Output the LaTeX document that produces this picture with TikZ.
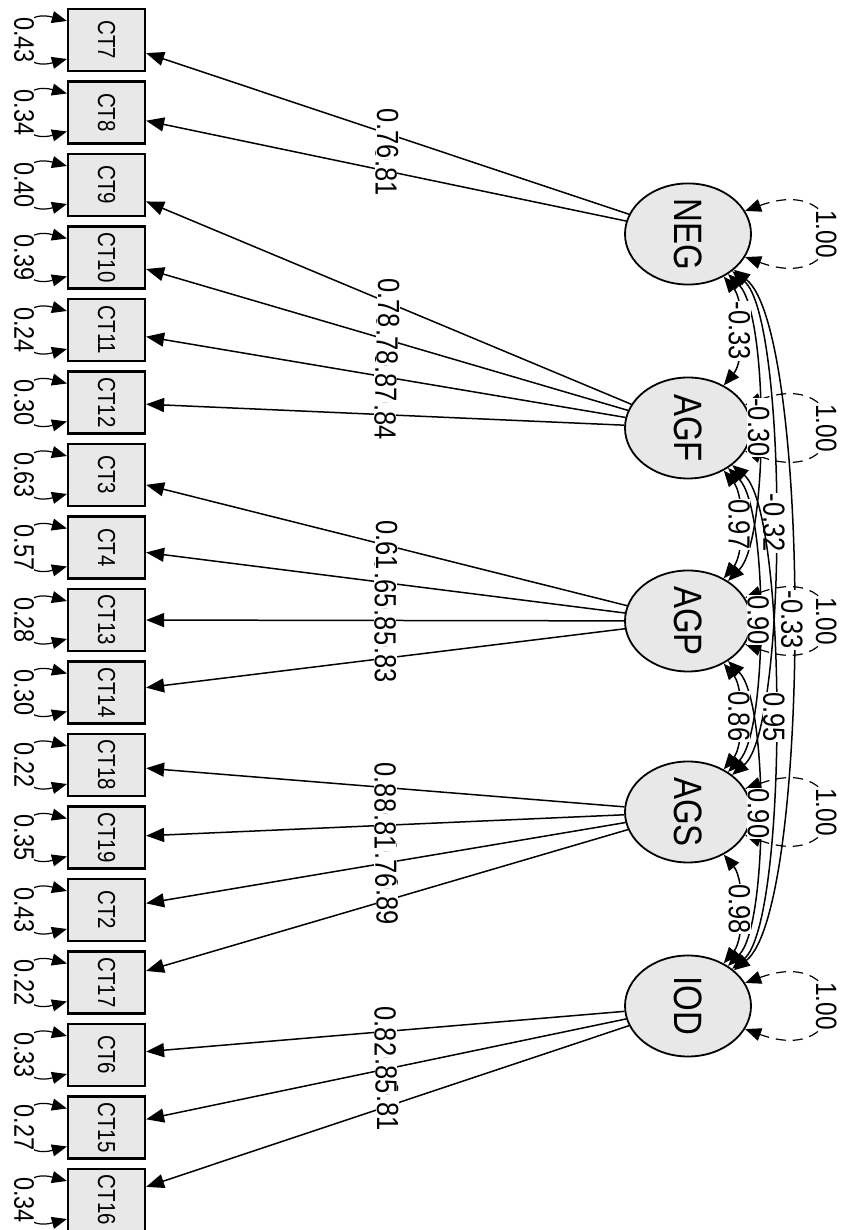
\documentclass[tikz,border=0pt]{standalone}
\usepackage{fontspec}
\setmainfont{Liberation Sans}
\usetikzlibrary{shapes.geometric,arrows.meta}
\definecolor{nodegray}{RGB}{232,232,232}
\newcommand{\rt}[1]{\rotatebox{-90}{\scalebox{1}[1.2]{#1}}}

\begin{document}
\begin{tikzpicture}[
    x=1pt, y=1pt,
    latent/.style={
        ellipse,
        draw,
        line width=1.8pt,
        fill=nodegray,
        minimum width=126pt,
        minimum height=101pt,
        inner sep=0pt,
        font=\fontsize{33}{33}\selectfont
    },
    manifest/.style={
        rectangle,
        draw,
        line width=2.2pt,
        fill=nodegray,
        minimum width=77pt,
        minimum height=62pt,
        inner sep=0pt,
        font=\fontsize{20.5}{20.5}\selectfont
    },
    loading/.style={-{Triangle[length=18pt,width=14pt]}, line width=1.5pt},
    resid/.style={{Triangle[length=15pt,width=12pt]}-{Triangle[length=15pt,width=12pt]}, line width=1.2pt},
    varloop/.style={{Triangle[length=16pt,width=13pt]}-{Triangle[length=16pt,width=13pt]}, line width=1.2pt, dash pattern=on 10pt off 7pt},
    covar/.style={{Triangle[length=16pt,width=13pt]}-{Triangle[length=16pt,width=13pt]}, line width=1.5pt},
    elab/.style={fill=white, inner sep=0.5pt, midway, font=\fontsize{25.5}{25.5}\selectfont},
    rlab/.style={fill=white, inner sep=0.5pt, midway, font=\fontsize{23.5}{23.5}\selectfont},
    vlab/.style={fill=white, inner sep=0.5pt, midway, font=\fontsize{24.5}{24.5}\selectfont}
]
\useasboundingbox (0,0) rectangle (841,1230);

% Latent factors
\node[latent] (neg) at (688,996) {\rt{NEG}};
\node[latent] (agf) at (688,802) {\rt{AGF}};
\node[latent] (agp) at (688,609) {\rt{AGP}};
\node[latent] (ags) at (688,418) {\rt{AGS}};
\node[latent] (iod) at (688,224) {\rt{IOD}};

% Items
\node[manifest] (ct7) at (106.5,1190) {\rt{CT7}};
\node[manifest] (ct8) at (106.5,1117.5) {\rt{CT8}};
\node[manifest] (ct9) at (106.5,1045) {\rt{CT9}};
\node[manifest] (ct10) at (106.5,972.5) {\rt{CT10}};
\node[manifest] (ct11) at (106.5,900) {\rt{CT11}};
\node[manifest] (ct12) at (106.5,827.5) {\rt{CT12}};
\node[manifest] (ct3) at (106.5,755) {\rt{CT3}};
\node[manifest] (ct4) at (106.5,682.5) {\rt{CT4}};
\node[manifest] (ct13) at (106.5,610) {\rt{CT13}};
\node[manifest] (ct14) at (106.5,537.5) {\rt{CT14}};
\node[manifest] (ct18) at (106.5,465) {\rt{CT18}};
\node[manifest] (ct19) at (106.5,392.5) {\rt{CT19}};
\node[manifest] (ct2) at (106.5,320) {\rt{CT2}};
\node[manifest] (ct17) at (106.5,247.5) {\rt{CT17}};
\node[manifest] (ct6) at (106.5,175) {\rt{CT6}};
\node[manifest] (ct15) at (106.5,102.5) {\rt{CT15}};
\node[manifest] (ct16) at (106.5,30) {\rt{CT16}};

% Loadings (lower items first, so upper labels lie on top)
\draw[loading] (neg) -- node[elab]{\rt{0.81}} (ct8);
\draw[loading] (neg) -- node[elab]{\rt{0.76}} (ct7);
\draw[loading] (agf) -- node[elab]{\rt{0.84}} (ct12);
\draw[loading] (agf) -- node[elab]{\rt{0.87}} (ct11);
\draw[loading] (agf) -- node[elab]{\rt{0.78}} (ct10);
\draw[loading] (agf) -- node[elab]{\rt{0.78}} (ct9);
\draw[loading] (agp) -- node[elab]{\rt{0.83}} (ct14);
\draw[loading] (agp) -- node[elab]{\rt{0.85}} (ct13);
\draw[loading] (agp) -- node[elab]{\rt{0.65}} (ct4);
\draw[loading] (agp) -- node[elab]{\rt{0.61}} (ct3);
\draw[loading] (ags) -- node[elab]{\rt{0.89}} (ct17);
\draw[loading] (ags) -- node[elab]{\rt{0.76}} (ct2);
\draw[loading] (ags) -- node[elab]{\rt{0.81}} (ct19);
\draw[loading] (ags) -- node[elab]{\rt{0.88}} (ct18);
\draw[loading] (iod) -- node[elab]{\rt{0.81}} (ct16);
\draw[loading] (iod) -- node[elab]{\rt{0.85}} (ct15);
\draw[loading] (iod) -- node[elab]{\rt{0.82}} (ct6);

% Residual variances
\draw[resid] ([yshift=19pt]ct7.west) to[out=165,in=195,looseness=4] node[rlab]{\rt{0.43}} ([yshift=-19pt]ct7.west);
\draw[resid] ([yshift=19pt]ct8.west) to[out=165,in=195,looseness=4] node[rlab]{\rt{0.34}} ([yshift=-19pt]ct8.west);
\draw[resid] ([yshift=19pt]ct9.west) to[out=165,in=195,looseness=4] node[rlab]{\rt{0.40}} ([yshift=-19pt]ct9.west);
\draw[resid] ([yshift=19pt]ct10.west) to[out=165,in=195,looseness=4] node[rlab]{\rt{0.39}} ([yshift=-19pt]ct10.west);
\draw[resid] ([yshift=19pt]ct11.west) to[out=165,in=195,looseness=4] node[rlab]{\rt{0.24}} ([yshift=-19pt]ct11.west);
\draw[resid] ([yshift=19pt]ct12.west) to[out=165,in=195,looseness=4] node[rlab]{\rt{0.30}} ([yshift=-19pt]ct12.west);
\draw[resid] ([yshift=19pt]ct3.west) to[out=165,in=195,looseness=4] node[rlab]{\rt{0.63}} ([yshift=-19pt]ct3.west);
\draw[resid] ([yshift=19pt]ct4.west) to[out=165,in=195,looseness=4] node[rlab]{\rt{0.57}} ([yshift=-19pt]ct4.west);
\draw[resid] ([yshift=19pt]ct13.west) to[out=165,in=195,looseness=4] node[rlab]{\rt{0.28}} ([yshift=-19pt]ct13.west);
\draw[resid] ([yshift=19pt]ct14.west) to[out=165,in=195,looseness=4] node[rlab]{\rt{0.30}} ([yshift=-19pt]ct14.west);
\draw[resid] ([yshift=19pt]ct18.west) to[out=165,in=195,looseness=4] node[rlab]{\rt{0.22}} ([yshift=-19pt]ct18.west);
\draw[resid] ([yshift=19pt]ct19.west) to[out=165,in=195,looseness=4] node[rlab]{\rt{0.35}} ([yshift=-19pt]ct19.west);
\draw[resid] ([yshift=19pt]ct2.west) to[out=165,in=195,looseness=4] node[rlab]{\rt{0.43}} ([yshift=-19pt]ct2.west);
\draw[resid] ([yshift=19pt]ct17.west) to[out=165,in=195,looseness=4] node[rlab]{\rt{0.22}} ([yshift=-19pt]ct17.west);
\draw[resid] ([yshift=19pt]ct6.west) to[out=165,in=195,looseness=4] node[rlab]{\rt{0.33}} ([yshift=-19pt]ct6.west);
\draw[resid] ([yshift=19pt]ct15.west) to[out=165,in=195,looseness=4] node[rlab]{\rt{0.27}} ([yshift=-19pt]ct15.west);
\draw[resid] ([yshift=19pt]ct16.west) to[out=165,in=195,looseness=4] node[rlab]{\rt{0.34}} ([yshift=-19pt]ct16.west);

% Factor variances
\draw[varloop] (neg.22) to[out=20,in=-20,looseness=6.4] node[vlab]{\rt{1.00}} (neg.-22);
\draw[varloop] (agf.22) to[out=20,in=-20,looseness=6.4] node[vlab]{\rt{1.00}} (agf.-22);
\draw[varloop] (agp.22) to[out=20,in=-20,looseness=6.4] node[vlab]{\rt{1.00}} (agp.-22);
\draw[varloop] (ags.22) to[out=20,in=-20,looseness=6.4] node[vlab]{\rt{1.00}} (ags.-22);
\draw[varloop] (iod.22) to[out=20,in=-20,looseness=6.4] node[vlab]{\rt{1.00}} (iod.-22);

% Factor covariances
\draw[covar] (neg) to[out=-38,in=38,looseness=0.36] node[elab]{\rt{-0.33}} (iod);
\draw[covar] (neg) to[out=-40,in=40,looseness=0.37] node[elab]{\rt{-0.32}} (ags);
\draw[covar] (agf) to[out=-40,in=40,looseness=0.37] node[elab]{\rt{0.95}} (iod);
\draw[covar] (neg) to[out=-45,in=45,looseness=0.48] node[elab]{\rt{-0.30}} (agp);
\draw[covar] (agf) to[out=-45,in=45,looseness=0.48] node[elab]{\rt{0.90}} (ags);
\draw[covar] (agp) to[out=-45,in=45,looseness=0.48] node[elab]{\rt{0.90}} (iod);
\draw[covar] (neg) to[out=-50,in=50,looseness=0.76] node[elab]{\rt{-0.33}} (agf);
\draw[covar] (agf) to[out=-50,in=50,looseness=0.76] node[elab]{\rt{0.97}} (agp);
\draw[covar] (agp) to[out=-50,in=50,looseness=0.76] node[elab]{\rt{0.86}} (ags);
\draw[covar] (ags) to[out=-50,in=50,looseness=0.76] node[elab]{\rt{0.98}} (iod);

\end{tikzpicture}
\end{document}
